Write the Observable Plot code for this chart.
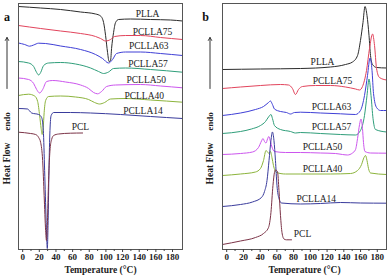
<!DOCTYPE html>
<html><head><meta charset="utf-8">
<script src="https://cdn.jsdelivr.net/npm/d3@7"></script>
<script src="https://cdn.jsdelivr.net/npm/@observablehq/plot@0.6"></script>
<style>
body{margin:0;background:#fff;}
#wrap{position:relative;width:392px;height:279px;overflow:hidden;}
#wrap>div,#wrap>svg{position:absolute;top:0;}
g[aria-label="x-axis tick label"] text{font-weight:bold;}
</style></head><body>
<div id="wrap"></div>
<script>
// ---- data: [temperature °C, heat flow (a.u., endo up)] ----
const seriesNames = ["PLLA","PCLLA75","PCLLA63","PCLLA57","PCLLA50","PCLLA40","PCLLA14","PCL"];
const colors = ["#2b2b2b","#e2445c","#3f3fd6","#2f9e7a","#cc55ee","#8cb43c","#393b9c","#7b3347"];
const xTicks = [0,20,40,60,80,100,120,140,160,180];
const xMinorTicks = [10,30,50,70,90,110,130,150,170];

// panel a (cooling)
const a_PLLA = [[-5,243],[21.6,241.5],[45.6,240],[69.6,237.5],[87.6,235.5],[93.6,233.5],[97.2,227],[99.6,214],[102,197],[103.8,188],[105.6,189],[106.8,201],[109.2,217],[111.6,227],[115.2,230],[129.6,230.5],[153.6,230],[177.6,229.5],[192,228.5]];
const a_PCLLA75 = [[-5,224],[21.6,221],[45.6,218.5],[69.6,216],[87.6,213],[93.6,211],[99.6,208.5],[105.6,210],[110.4,213],[123.6,214],[141.6,214],[165.6,212],[192,210]];
const a_PCLLA63 = [[-5,206.5],[2.4,205],[8.4,203.3],[13.2,204.5],[19.2,206.3],[27.6,206],[45.6,203.5],[69.6,200],[87.6,195],[96,191],[103.2,186.5],[108,190],[112.8,196],[123.6,197.5],[141.6,197.5],[165.6,196],[192,194]];
const a_PCLLA57 = [[-5,188],[7.2,186.5],[13.2,183],[16.8,177],[19.2,174.5],[21.6,177],[25.2,184],[31.2,186.5],[45.6,187],[63.6,185.5],[81.6,181.5],[91.2,178],[97.2,176],[103.2,177.5],[109.2,181],[123.6,181.5],[153.6,180],[192,177.3]];
const a_PCLLA50 = [[-5,171.5],[7.2,170],[13.2,166],[16.8,160],[20.4,156.5],[24,160],[28.8,168],[36,169],[51.6,167.5],[69.6,164.5],[79.2,161],[85.2,157],[90,155.7],[94.8,158],[100.8,163],[111.6,164.5],[141.6,165],[165.6,163.5],[192,161.7]];
const a_PCLLA40 = [[-5,154],[7.2,155.3],[14.4,153.5],[18,148],[20.4,134],[22.2,121],[23.4,115],[24.6,121],[25.8,137],[27.6,149],[31.2,153],[45.6,153.5],[63.6,152.5],[79.2,150],[86.4,147],[92.4,145.5],[98.4,147],[105.6,150.5],[123.6,151],[153.6,149.5],[192,147.3]];
const a_PCLLA14 = [[-5,141],[6,140.5],[8.4,138.5],[10.8,136.5],[19.2,135],[22.8,132],[24.8,119],[26.4,79],[28.2,29],[29.6,1],[30.6,29],[31.6,79],[32.8,119],[34.2,134],[37.2,137],[57.6,137],[81.6,136.5],[117.6,135],[153.6,133],[192,131]];
const a_PCL = [[-5,117.3],[9.6,116],[15.6,115],[19.2,112],[21.6,107],[24,89],[25.8,54],[27.6,19],[28.6,9],[29.5,21],[30.6,54],[31.8,84],[33,101],[34.8,110],[37.2,114],[43.2,115.5],[57.6,116.3],[72,116.5]];
const a_labelT = [150,156,151.5,150.5,148.5,146,144.5,69.4];
const a_labelH = [236,217.3,204,186,169.7,154,139,122.3];

// panel b (heating)
const b_PLLA = [[-5,180],[40.4,180.5],[88.2,181],[124.1,182.5],[142,185],[150.4,187.5],[156.4,194],[159.9,209],[162.9,227],[165.3,243],[167.7,234],[170.1,214],[171.9,194],[174.3,185],[179.1,182],[191,181.5]];
const b_PCLLA75 = [[-5,161],[16.5,162.5],[40.4,164],[64.3,165],[73.9,164.5],[78.6,161],[82.2,155],[85.8,160],[90.6,163],[106.1,164],[124.1,164],[142,162.5],[154,160.5],[158.8,159.5],[162.3,163],[167.1,179],[170.7,201],[174.3,215.5],[176.7,204],[179.1,181],[182.6,172],[191,169.5]];
const b_PCLLA63 = [[-5,134],[16.5,136.5],[34.4,140],[44,143],[50,147],[52.3,148.5],[54.7,145],[57.1,140.5],[64.3,138],[71.5,137],[76.3,135.5],[81,137],[88.2,137.3],[112.1,136.5],[136,135.7],[154,135],[159.9,139],[164.7,154],[168.3,174],[171.3,191.5],[173.7,179],[175.5,156],[179.1,142],[183.8,139],[191,139]];
const b_PCLLA57 = [[-5,116],[16.5,118],[29.6,120.5],[40.4,124],[46.4,128],[50,132.5],[53,135],[54.7,131],[57.1,124],[64.3,120],[76.3,118],[82.2,116.5],[88.2,117],[112.1,116],[136,115],[154,114.5],[159.9,119],[164.7,134],[167.7,154],[170.1,170.5],[172.5,154],[174.9,131],[177.8,120],[191,117.5]];
const b_PCLLA50 = [[-5,95],[16.5,96],[30.8,97.5],[38,102],[41.6,108.5],[43.4,111],[45.2,108],[47,106.5],[48.8,110.5],[50.3,113],[52.3,108],[54.1,102.5],[57.1,98],[70.3,97],[88.2,97],[112.1,96.5],[130,96],[138.4,95],[144.4,94.5],[150.4,96.5],[154,100],[156.4,111],[158.8,125],[160.5,130.5],[162.3,121],[163.5,107],[165.3,98],[171.9,96.5],[191,96.3]];
const b_PCLLA40 = [[-5,74],[16.5,75.5],[34.4,77.5],[40.4,81],[44,89],[47,99],[48.8,97.5],[50.6,96],[52.3,98],[54.1,92],[55.9,84],[59.5,77],[70.3,75.5],[88.2,75.5],[124.1,75.5],[148,76],[156.4,79],[161.2,85],[164.1,92],[165.9,94],[167.7,89],[169.5,81],[171.9,76.5],[191,75]];
const b_PCLLA14 = [[-5,43],[16.5,45],[30.8,47.5],[41.6,52],[45.2,58],[48.2,69],[50.6,89],[52.9,109],[54.7,117.5],[56.5,109],[58.3,89],[60.1,64],[62.5,51],[65.5,46.5],[88.2,45.5],[112.1,46],[136,47],[159.9,46.5],[191,46.3]];
const b_PCL = [[-5,5],[16.5,8.5],[34.4,12],[44,16],[50,22],[52.9,37],[55.3,64],[57.1,77],[58.3,79.5],[60.7,78],[62.5,59],[64.3,34],[66.1,17],[68.5,10.5],[71.5,9.7],[77.5,9.7]];
const b_labelT = [114.5,126.5,125.3,125.3,114.5,114.5,107.1,90.6];
const b_labelH = [188,169,142.3,122.3,103,80.7,50.7,15.7];

const aCurves = [a_PLLA,a_PCLLA75,a_PCLLA63,a_PCLLA57,a_PCLLA50,a_PCLLA40,a_PCLLA14,a_PCL];
const bCurves = [b_PLLA,b_PCLLA75,b_PCLLA63,b_PCLLA57,b_PCLLA50,b_PCLLA40,b_PCLLA14,b_PCL];

function panel({curves, labelT, labelH, letter, domain, ml, mr, textDx, letterDx}) {
  const labels = seriesNames.map((n,i)=>({n, T: labelT[i], H: labelH[i]}));
  const x0 = domain[0];
  return Plot.plot({
    width: 196, height: 279,
    marginLeft: ml, marginRight: mr, marginTop: 3, marginBottom: 30,
    style: {fontFamily: "'Liberation Serif', 'Times New Roman', serif", fontSize: "9px", color: "#222", background: "transparent"},
    x: {domain, axis: null},
    y: {domain: [0, 246], axis: null},
    marks: [
      ...curves.map((c,i)=>Plot.line(c, {x: d=>d[0], y: d=>d[1], stroke: colors[i], strokeWidth: 1, curve: "monotone-x"})),
      Plot.frame({stroke: "#555", strokeWidth: 1}),
      Plot.axisX(xTicks, {anchor: "bottom", tickSize: 3, tickPadding: 1.5, fontSize: 9, fontWeight: "bold", label: null, stroke: "#444"}),
      Plot.axisX(xMinorTicks, {anchor: "bottom", tickSize: 2, tickFormat: () => "", label: null, stroke: "#444"}),
      Plot.text(labels, {x: "T", y: "H", text: "n", fontSize: 9.5, fill: "#222"}),
      Plot.text(["Temperature (\u00b0C)"], {frameAnchor: "bottom", dy: 23, fontSize: 9.5, fontWeight: "bold", fill: "#222"}),
      Plot.text(["Heat Flow"], {x: x0, y: 86, dx: textDx, rotate: -90, fontSize: 9.5, fontWeight: "bold", fill: "#222"}),
      Plot.text(["endo"], {x: x0, y: 128, dx: textDx, rotate: -90, fontSize: 9, fontWeight: "bold", fill: "#222"}),
      Plot.arrow([0], {x1: x0, x2: x0, y1: 161, y2: 212, dx: textDx, stroke: "#333", strokeWidth: 1, headLength: 5}),
      Plot.text([letter], {x: x0, y: 232, dx: letterDx, fontSize: 12, fontWeight: "bold", fill: "#111"})
    ]
  });
}

const wrap = document.getElementById("wrap");
const pa = panel({curves: aCurves, labelT: a_labelT, labelH: a_labelH, letter: "a", domain: [-5, 192], ml: 18, mr: 14, textDx: -11.5, letterDx: -11.5});
pa.style.left = "0px";
const pb = panel({curves: bCurves, labelT: b_labelT, labelH: b_labelH, letter: "b", domain: [-5, 191], ml: 26, mr: 6, textDx: -12.5, letterDx: -17});
pb.style.left = "196px";
wrap.appendChild(pa); wrap.appendChild(pb);
</script>
</body></html>
